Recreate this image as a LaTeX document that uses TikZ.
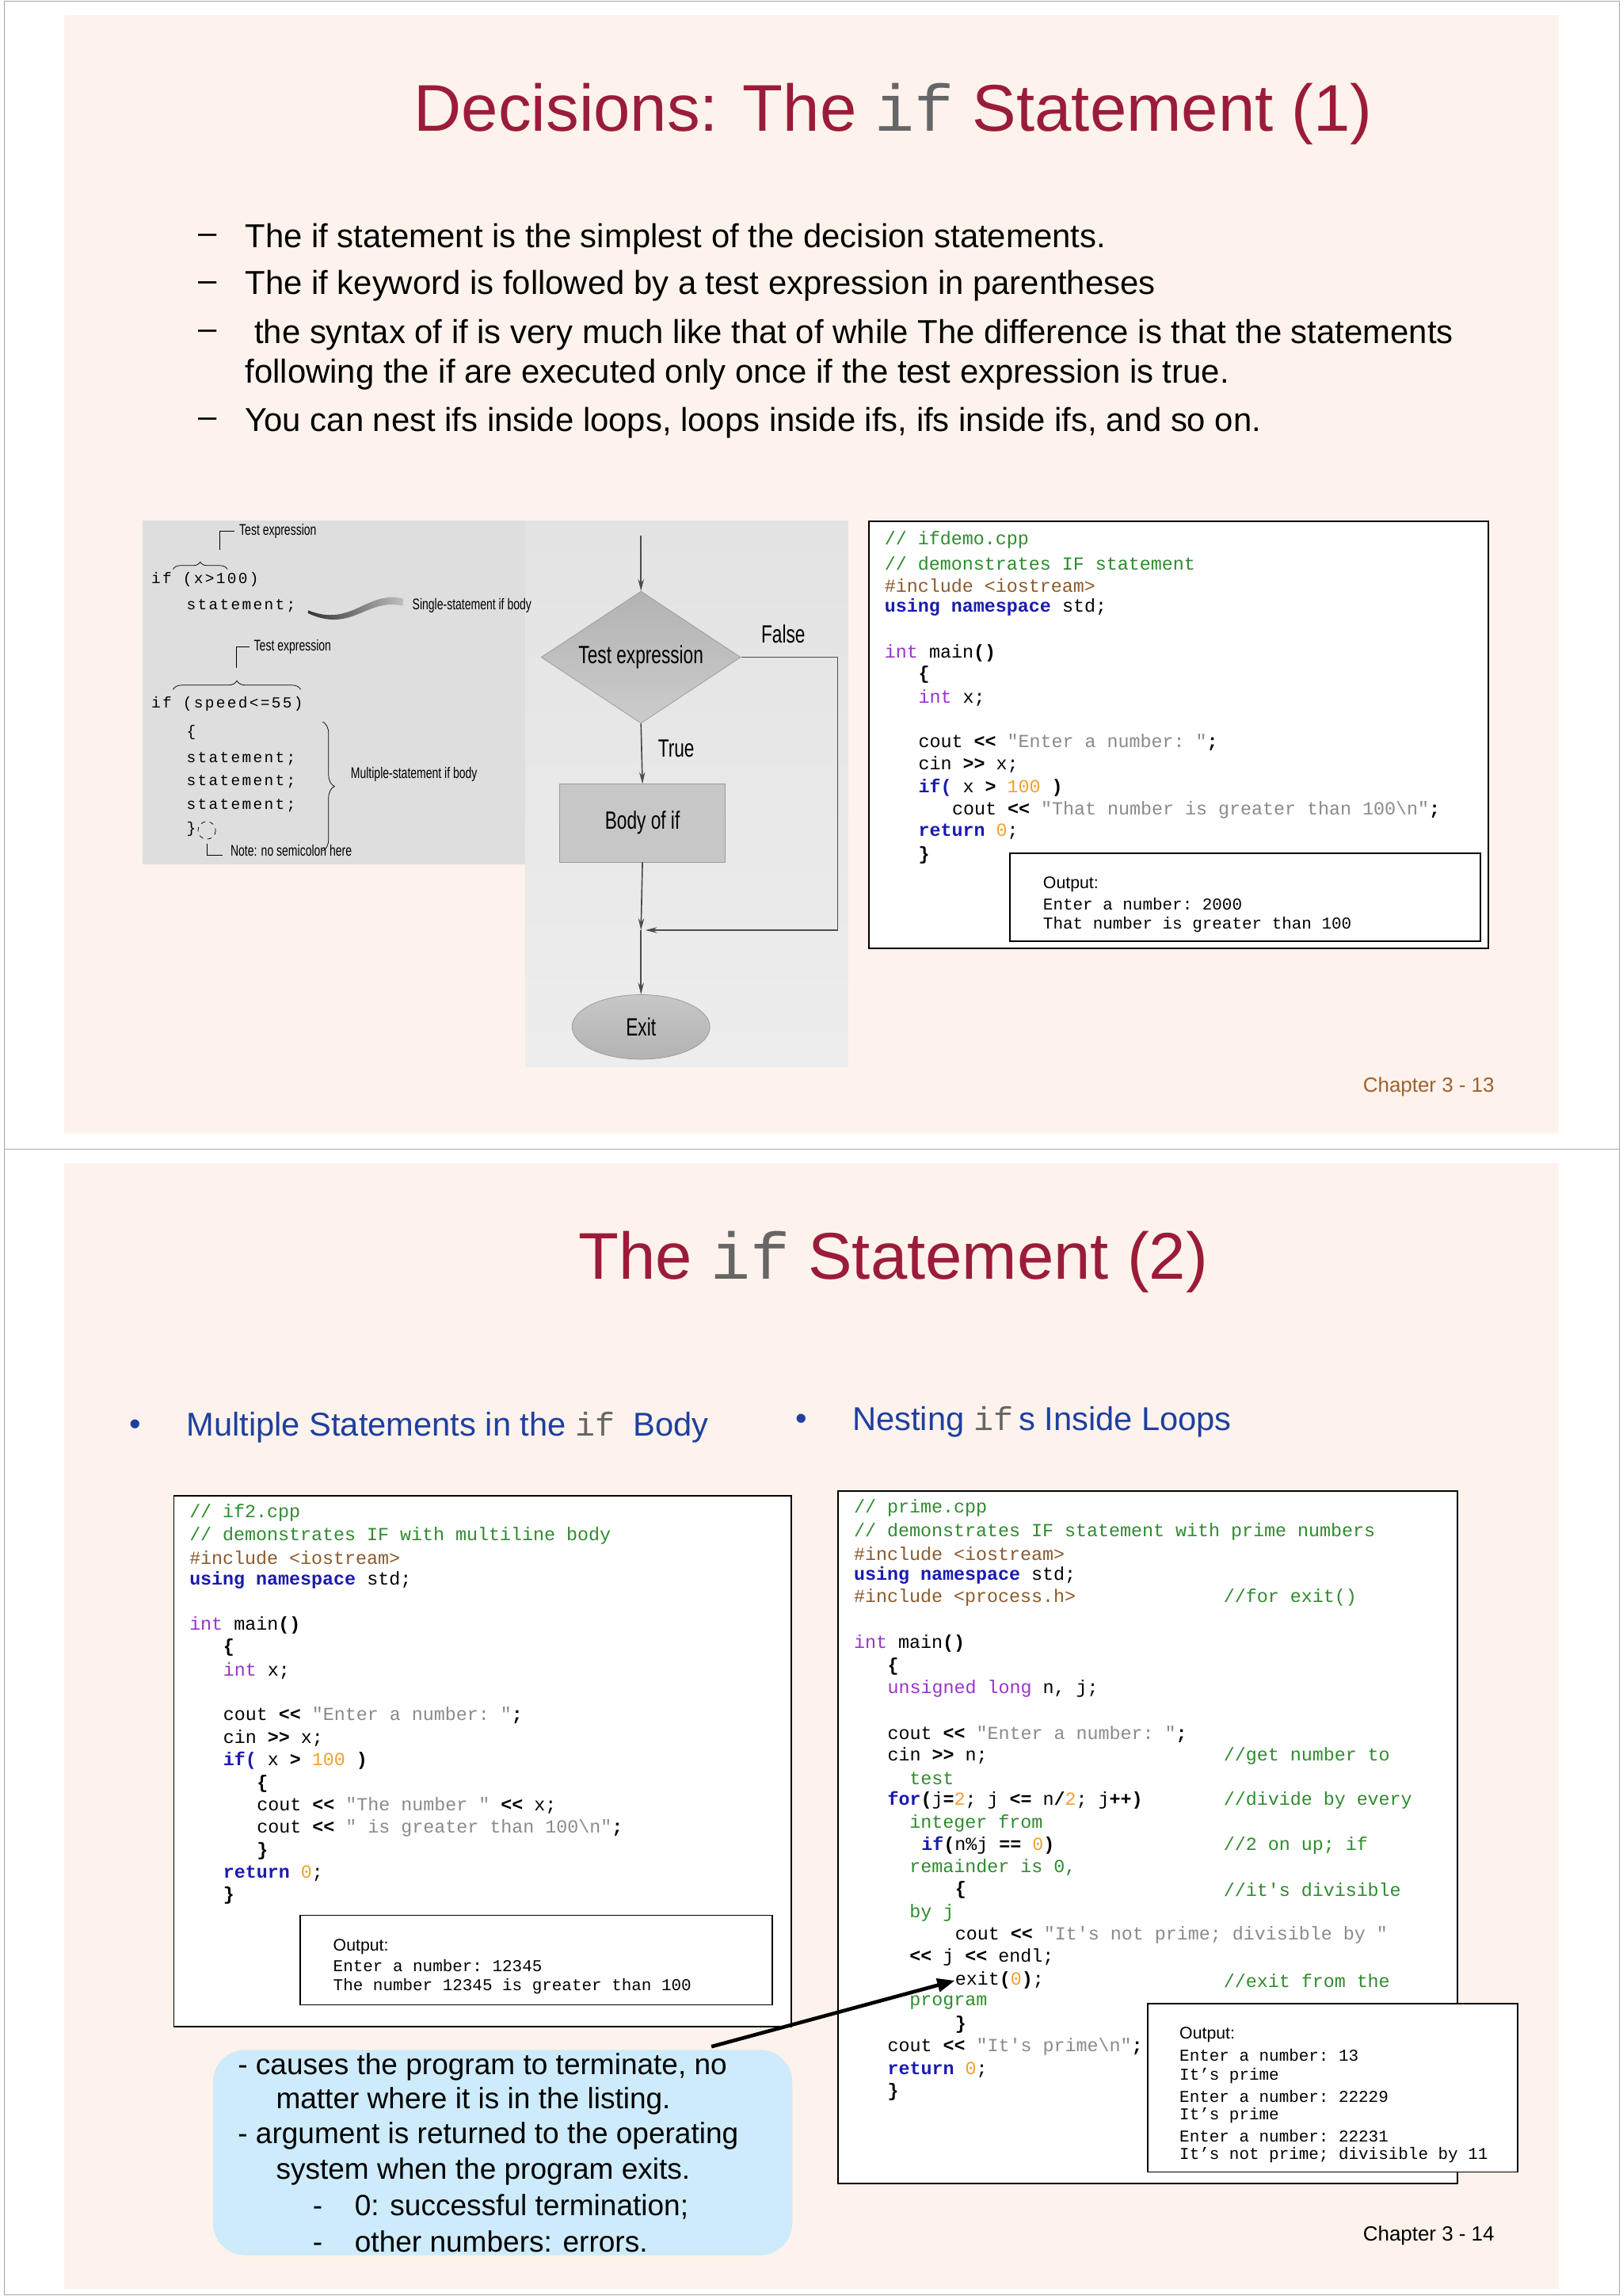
\documentclass[tikz,border=0pt]{standalone}
\usepackage{fontspec}
\setmainfont{Liberation Sans}
\setmonofont{Liberation Mono}
\usetikzlibrary{shapes.geometric,arrows.meta,decorations.pathreplacing}
\definecolor{slidebg}{HTML}{FDF3EC}
\definecolor{ttl}{HTML}{9B1B3B}
\definecolor{cmt}{HTML}{2E8B2E}
\definecolor{inc}{HTML}{8B5A2B}
\definecolor{kw}{HTML}{1A1AB0}
\definecolor{typ}{HTML}{9933CC}
\definecolor{str}{HTML}{8A8A8A}
\definecolor{num}{HTML}{F0A030}
\definecolor{blu}{HTML}{1F3F9F}
\definecolor{chap}{HTML}{A0602D}
\definecolor{panel}{HTML}{DEDEDE}
\definecolor{callout}{HTML}{CDEBFA}
\newcommand{\Cm}[1]{\textcolor{cmt}{#1}}
\newcommand{\In}[1]{\textcolor{inc}{#1}}
\newcommand{\Kw}[1]{\textcolor{kw}{\bfseries #1}}
\newcommand{\Ty}[1]{\textcolor{typ}{#1}}
\newcommand{\St}[1]{\textcolor{str}{#1}}
\newcommand{\Nu}[1]{\textcolor{num}{#1}}
\tikzset{
 code/.style={anchor=west,inner sep=0pt,font=\fontsize{12.6}{14}\ttfamily},
 outc/.style={anchor=west,inner sep=0pt,font=\fontsize{11.3}{13}\ttfamily},
 bul/.style={anchor=west,inner sep=0pt,font=\fontsize{22.6}{26}\selectfont},
 hd/.style={anchor=west,inner sep=0pt,text=blu,font=\fontsize{22.5}{26}\selectfont},
 cbox/.style={draw=black,line width=1pt,fill=white},
 fig/.style={inner sep=0pt,font=\fontsize{10.5}{11}\selectfont\addfontfeatures{FakeStretch=0.72},anchor=west},
 fmono/.style={anchor=west,inner sep=0pt,font=\fontsize{10.5}{12}\ttfamily\addfontfeatures{LetterSpace=12}},
 flow/.style={draw=black!70,line width=0.9pt},
 flbl/.style={font=\fontsize{17}{18}\selectfont\addfontfeatures{FakeStretch=0.72},inner sep=0pt}
}
\begin{document}
\begin{tikzpicture}[x=1pt,y=-1pt]
\useasboundingbox (0,0) rectangle (1106,1565);
\fill[white] (0,0) rectangle (1106,1565);
\draw[black!35] (3,1) rectangle (1104,1564);
\draw[black!35] (3,783) -- (1104,783);
\fill[slidebg] (44,10) rectangle (1063,773);
\fill[slidebg] (44,793) rectangle (1063,1560);
% ---------- slide 1 ----------
\node[text=ttl,font=\fontsize{45}{50}\selectfont] (t1) at (609,78) {Decisions: The \textcolor{black!60}{\ttfamily if} Statement (1)};
\foreach \yy/\tt in {163/{The if statement is the simplest of the decision statements.},195/{The if keyword is followed by a test expression in parentheses},228/{\ the syntax of if is very much like that of while The difference is that the statements},255/{following the if are executed only once if the test expression is true.},288/{You can nest ifs inside loops, loops inside ifs, ifs inside ifs, and so on.}}
  \node[bul] at (167,\yy) {\tt};
\foreach \yy in {163,195,228,288} \node[bul] at (135,\yy) {–};
% figure panels
\fill[panel] (97,355) rectangle (358,589);
\shade[top color=black!11,bottom color=black!7] (358,355) rectangle (578,727);
\node[fmono] (a1) at (103,395) {if (x>100)};
\node[fmono] (a2) at (127,413) {statement;};
\draw[decorate,decoration={brace,amplitude=5pt}] (118,388) -- (155,388);
\draw (150,375) -- (150,362) -- (160,362);
\node[fig] (te1) at (163,362) {Test expression};
\shade[left color=black!80,right color=black!25] (210,416) .. controls (240,428) and (250,402) .. (275,408) -- (275,413) .. controls (250,407) and (240,432) .. (210,418) -- cycle;
\node[fig] (ss) at (281,413) {Single-statement if body};
\draw (161,455) -- (161,441) -- (170,441);
\node[fig] (te2) at (173,441) {Test expression};
\draw[decorate,decoration={brace,amplitude=6pt}] (118,470) -- (205,470);
\node[fmono] (b1) at (103,480) {if (speed<=55)};
\node[fmono] at (127,499) {\{};
\foreach \yy in {517,533,549} \node[fmono] at (127,\yy) {statement;};
\node[fmono] (rb) at (127,565) {\}};
\draw[dashed] (141,566) circle (6);
\draw (141,575) -- (141,583) -- (152,583);
\node[fig] (nt) at (157,580) {Note: no semicolon here};
\draw[decorate,decoration={brace,amplitude=8pt}] (220,492) -- (220,580);
\node[fig] (ms) at (239,528) {Multiple-statement if body};
% flowchart
\node[diamond,aspect=1.5,minimum width=136,minimum height=90,inner sep=0pt,draw=black!40,top color=black!30,bottom color=black!20] (dia) at (437,448) {};
\node[flbl] at (437,448) {Test expression};
\node[draw=black!40,fill=black!22,minimum width=113,minimum height=53,inner sep=0pt] (body) at (438,561) {};
\node[flbl] at (438,561) {Body of if};
\node[ellipse,draw=black!40,top color=black!22,bottom color=black!30,minimum width=94,minimum height=44,inner sep=0pt] (exit) at (437,700) {};
\node[flbl] at (437,700) {Exit};
\coordinate (top) at (437,365);
\coordinate (j) at (437,634);
\coordinate (fr) at (571,448);
\draw[flow,-{Stealth[length=8pt,width=4pt]}] (top) -- (dia.north);
\draw[flow,-{Stealth[length=8pt,width=4pt]}] (dia.south) -- (body.north);
\draw[flow,-{Stealth[length=8pt,width=4pt]}] (body.south) -- (j);
\draw[flow,-{Stealth[length=8pt,width=4pt]}] (dia.east) -- (fr) -- (571,634) -- (440,634);
\draw[flow,-{Stealth[length=8pt,width=4pt]}] (j) -- (exit.north);
\node[flbl] at (461,510) {True};
\node[flbl] at (534,432) {False};
% code box 1
\node[cbox,minimum width=422,minimum height=291,anchor=north west] (cb1) at (592,355) {};
\node[code] at (603,368) {\Cm{// ifdemo.cpp}};
\node[code] at (603,384) {\Cm{// demonstrates IF statement}};
\node[code] at (603,399) {\In{\#include <iostream>}};
\node[code] at (603,414) {\Kw{using namespace} std;};
\node[code] at (603,445) {\Ty{int} main\textbf{()}};
\node[code] at (626,460) {\textbf{\{}};
\node[code] at (626,476) {\Ty{int} x;};
\node[code] at (626,506) {cout \textbf{<<} \St{"Enter a number: "}\textbf{;}};
\node[code] at (626,521) {cin \textbf{>>} x;};
\node[code] at (626,537) {\Kw{if(} x \textbf{>} \Nu{100} \textbf{)}};
\node[code] at (649,552) {cout \textbf{<<} \St{"That number is greater than 100\textbackslash n"}\textbf{;}};
\node[code] at (626,567) {\Kw{return} \Nu{0};};
\node[code] at (626,583) {\textbf{\}}};
\node[cbox,minimum width=321,minimum height=60,anchor=north west] (ob1) at (688,581) {};
\node[anchor=west,inner sep=0pt,font=\fontsize{11.5}{13}\selectfont] at (711,603) {Output:};
\node[outc] at (711,616) {Enter a number: 2000};
\node[outc] at (711,630) {That number is greater than 100};
\node[anchor=east,text=chap,font=\fontsize{14}{16}\selectfont,inner sep=0pt] (c13) at (1019,741) {Chapter 3 - 13};
% ---------- slide 2 ----------
\node[text=ttl,font=\fontsize{45}{50}\selectfont] (t2) at (609,860) {The \textcolor{black!60}{\ttfamily if} Statement (2)};
\node[hd] at (88,973) {•};
\node[hd] (h1) at (127,973) {Multiple Statements in the \textcolor{black!60}{\ttfamily if}\ \ Body};
\node[hd] at (542,969) {•};
\node[hd] (h2) at (581,969) {Nesting \textcolor{black!60}{\ttfamily if}\,s Inside Loops};
% code box 2
\node[cbox,minimum width=421,minimum height=362,anchor=north west] (cb2) at (118,1019) {};
\node[code] at (129,1031) {\Cm{// if2.cpp}};
\node[code] at (129,1047) {\Cm{// demonstrates IF with multiline body}};
\node[code] at (129,1062) {\In{\#include <iostream>}};
\node[code] at (129,1077) {\Kw{using namespace} std;};
\node[code] at (129,1108) {\Ty{int} main\textbf{()}};
\node[code] at (152,1123) {\textbf{\{}};
\node[code] at (152,1139) {\Ty{int} x;};
\node[code] at (152,1169) {cout \textbf{<<} \St{"Enter a number: "}\textbf{;}};
\node[code] at (152,1185) {cin \textbf{>>} x;};
\node[code] at (152,1200) {\Kw{if(} x \textbf{>} \Nu{100} \textbf{)}};
\node[code] at (175,1216) {\textbf{\{}};
\node[code] at (175,1231) {cout \textbf{<<} \St{"The number "} \textbf{<<} x;};
\node[code] at (175,1246) {cout \textbf{<<} \St{" is greater than 100\textbackslash n"}\textbf{;}};
\node[code] at (175,1262) {\textbf{\}}};
\node[code] at (152,1277) {\Kw{return} \Nu{0};};
\node[code] at (152,1292) {\textbf{\}}};
\node[cbox,minimum width=322,minimum height=61,anchor=north west] (ob2) at (204,1305) {};
\node[anchor=west,inner sep=0pt,font=\fontsize{11.5}{13}\selectfont] at (227,1327) {Output:};
\node[outc] at (227,1340) {Enter a number: 12345};
\node[outc] at (227,1354) {The number 12345 is greater than 100};
% code box 3
\node[cbox,minimum width=422,minimum height=472,anchor=north west] (cb3) at (571,1016) {};
\node[code] at (582,1028) {\Cm{// prime.cpp}};
\node[code] at (582,1044) {\Cm{// demonstrates IF statement with prime numbers}};
\node[code] at (582,1059) {\In{\#include <iostream>}};
\node[code] at (582,1074) {\Kw{using namespace} std;};
\node[code] at (582,1089) {\In{\#include <process.h>}};
\node[code] at (834,1089) {\Cm{//for exit()}};
\node[code] at (582,1120) {\Ty{int} main\textbf{()}};
\node[code] at (605,1136) {\textbf{\{}};
\node[code] at (605,1151) {\Ty{unsigned long} n, j;};
\node[code] at (605,1182) {cout \textbf{<<} \St{"Enter a number: "}\textbf{;}};
\node[code] at (605,1197) {cin \textbf{>>} n;};
\node[code] at (834,1197) {\Cm{//get number to}};
\node[code] at (620,1212) {\Cm{test}};
\node[code] at (605,1227) {\Kw{for}\textbf{(}j\textbf{=}\Nu{2}; j \textbf{<=} n\textbf{/}\Nu{2}; j\textbf{++)}};
\node[code] at (834,1227) {\Cm{//divide by every}};
\node[code] at (620,1243) {\Cm{integer from}};
\node[code] at (628,1258) {\Kw{if}\textbf{(}n\%j \textbf{==} \Nu{0}\textbf{)}};
\node[code] at (834,1258) {\Cm{//2 on up; if}};
\node[code] at (620,1273) {\Cm{remainder is 0,}};
\node[code] at (651,1288) {\textbf{\{}};
\node[code] at (834,1288) {\Cm{//it's divisible}};
\node[code] at (620,1304) {\Cm{by j}};
\node[code] at (651,1319) {cout \textbf{<<} \St{"It's not prime; divisible by "}};
\node[code] at (620,1334) {\textbf{<<} j \textbf{<<} endl;};
\node[code] (ex) at (651,1350) {exit\textbf{(}\Nu{0}\textbf{)};};
\node[code] at (834,1350) {\Cm{//exit from the}};
\node[code] at (620,1365) {\Cm{program}};
\node[code] at (651,1380) {\textbf{\}}};
\node[code] at (605,1395) {cout \textbf{<<} \St{"It's prime\textbackslash n"}\textbf{;}};
\node[code] at (605,1411) {\Kw{return} \Nu{0};};
\node[code] at (605,1426) {\textbf{\}}};
\node[cbox,minimum width=252,minimum height=115,anchor=north west] (ob3) at (782,1365) {};
\node[anchor=west,inner sep=0pt,font=\fontsize{11.5}{13}\selectfont] at (804,1387) {Output:};
\foreach \yy/\tt in {1401/{Enter a number: 13},1415/{It’s prime},1429/{Enter a number: 22229},1442/{It’s prime},1456/{Enter a number: 22231},1469/{It’s not prime; divisible by 11}}
  \node[outc] at (804,\yy) {\tt};
% callout
\node[fill=callout,rounded corners=22pt,minimum width=395,minimum height=140,anchor=north west,inner sep=0pt] (co) at (145,1397) {};
\foreach \yy/\xx/\tt in {1409/162/{- causes the program to terminate, no},1432/188/{matter where it is in the listing.},1456/162/{- argument is returned to the operating},1480/188/{system when the program exits.},1504/213/{-\hspace{22pt}0: successful termination;},1528/213/{-\hspace{22pt}other numbers: errors.}}
  \node[anchor=west,inner sep=0pt,font=\fontsize{20}{24}\selectfont] at (\xx,\yy) {\tt};
\coordinate (cs) at (485,1395);
\draw[line width=2.5pt,-{Triangle[length=12pt,width=9pt]}] (cs) -- (ex.west);
\node[anchor=east,font=\fontsize{14}{16}\selectfont,inner sep=0pt] (c14) at (1019,1524) {Chapter 3 - 14};
\end{tikzpicture}
\end{document}
